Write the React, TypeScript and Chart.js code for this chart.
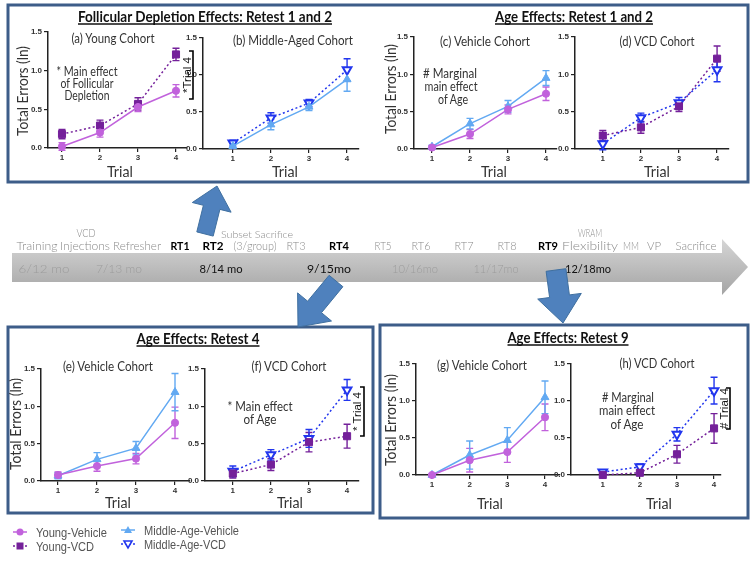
import React, { useEffect, useRef } from "react";
import { Chart, registerables } from "chart.js";
Chart.register(...registerables);
Chart.defaults.font.family = "'Liberation Sans', Arial, sans-serif";

// ---------------- DATA ----------------
const trials = [1, 2, 3, 4];
const yTickValues = [0, 0.5, 1.0, 1.5];

// (a) Young cohort, Retest 1 and 2
const aYoungVehicle = [0.02, 0.2, 0.53, 0.74];
const aYoungVehicleSem = [0.05, 0.06, 0.06, 0.08];
const aYoungVCD = [0.18, 0.29, 0.57, 1.21];
const aYoungVCDSem = [0.06, 0.07, 0.08, 0.08];
// (b) Middle-aged cohort, Retest 1 and 2
const bMiddleVehicle = [0.04, 0.33, 0.57, 0.94];
const bMiddleVehicleSem = [0.03, 0.07, 0.05, 0.16];
const bMiddleVCD = [0.08, 0.42, 0.62, 1.07];
const bMiddleVCDSem = [0.04, 0.07, 0.05, 0.15];
// (c) Vehicle cohort, Retest 1 and 2
const cMiddleVehicle = [0.03, 0.34, 0.57, 0.95];
const cMiddleVehicleSem = [0.02, 0.07, 0.08, 0.1];
const cYoungVehicle = [0.02, 0.2, 0.53, 0.74];
const cYoungVehicleSem = [0.02, 0.06, 0.06, 0.09];
// (d) VCD cohort, Retest 1 and 2
const dYoungVCD = [0.18, 0.29, 0.57, 1.21];
const dYoungVCDSem = [0.07, 0.08, 0.07, 0.17];
const dMiddleVCD = [0.07, 0.42, 0.62, 1.06];
const dMiddleVCDSem = [0.08, 0.06, 0.07, 0.16];
// (e) Vehicle cohort, Retest 4
const eMiddleVehicle = [0.07, 0.29, 0.44, 1.19];
const eMiddleVehicleSem = [0.04, 0.09, 0.09, 0.25];
const eYoungVehicle = [0.08, 0.2, 0.3, 0.78];
const eYoungVehicleSem = [0.04, 0.07, 0.07, 0.21];
// (f) VCD cohort, Retest 4
const fMiddleVCD = [0.13, 0.35, 0.57, 1.22];
const fMiddleVCDSem = [0.07, 0.07, 0.12, 0.14];
const fYoungVCD = [0.1, 0.22, 0.52, 0.6];
const fYoungVCDSem = [0.06, 0.08, 0.13, 0.16];
// (g) Vehicle cohort, Retest 9
const gMiddleVehicle = [0.0, 0.27, 0.47, 1.05];
const gMiddleVehicleSem = [0.01, 0.19, 0.17, 0.22];
const gYoungVehicle = [0.0, 0.2, 0.31, 0.78];
const gYoungVehicleSem = [0.01, 0.16, 0.14, 0.18];
// (h) VCD cohort, Retest 9
const hMiddleVCD = [0.04, 0.11, 0.55, 1.14];
const hMiddleVCDSem = [0.02, 0.04, 0.09, 0.18];
const hYoungVCD = [0.0, 0.03, 0.28, 0.63];
const hYoungVCDSem = [0.01, 0.02, 0.12, 0.2];

// ---------------- STYLE ----------------
const STYLE: any = {
  YV: { label: "Young-Vehicle", color: "#c162dc", fill: "#c162dc", pointStyle: "circle", radius: 3.6, dash: [], pbw: 1, rot: 0 },
  YVCD: { label: "Young-VCD", color: "#74209a", fill: "#74209a", pointStyle: "rect", radius: 5, dash: [2, 2.5], pbw: 1, rot: 0 },
  MAV: { label: "Middle-Age-Vehicle", color: "#62a9f2", fill: "#62a9f2", pointStyle: "triangle", radius: 4.6, dash: [], pbw: 1, rot: 0 },
  MAVCD: { label: "Middle-Age-VCD", color: "#2236ee", fill: "#ffffff", pointStyle: "triangle", radius: 5, dash: [2, 2.5], pbw: 2, rot: 180 },
};

const GEO: any = {
  a: { axisX: 48, yTop: 32, yBot: 148, p1: 62, p4: 176, xEnd: 187 },
  b: { axisX: 203, yTop: 38, yBot: 149, p1: 233, p4: 348, xEnd: 360 },
  c: { axisX: 414, yTop: 37, yBot: 149, p1: 432, p4: 546, xEnd: 557 },
  d: { axisX: 575, yTop: 37, yBot: 149, p1: 603, p4: 718, xEnd: 730 },
  e: { axisX: 41, yTop: 369, yBot: 481, p1: 58, p4: 175, xEnd: 190 },
  f: { axisX: 205, yTop: 369, yBot: 481, p1: 233, p4: 348, xEnd: 360 },
  g: { axisX: 416, yTop: 364, yBot: 475, p1: 432, p4: 545, xEnd: 560 },
  h: { axisX: 571, yTop: 364, yBot: 475, p1: 603, p4: 715, xEnd: 722 },
};

const PANELS = [
  { id: "a", series: [["YV", aYoungVehicle, aYoungVehicleSem], ["YVCD", aYoungVCD, aYoungVCDSem]] },
  { id: "b", series: [["MAV", bMiddleVehicle, bMiddleVehicleSem], ["MAVCD", bMiddleVCD, bMiddleVCDSem]] },
  { id: "c", series: [["YV", cYoungVehicle, cYoungVehicleSem], ["MAV", cMiddleVehicle, cMiddleVehicleSem]] },
  { id: "d", series: [["YVCD", dYoungVCD, dYoungVCDSem], ["MAVCD", dMiddleVCD, dMiddleVCDSem]] },
  { id: "e", series: [["YV", eYoungVehicle, eYoungVehicleSem], ["MAV", eMiddleVehicle, eMiddleVehicleSem]] },
  { id: "f", series: [["YVCD", fYoungVCD, fYoungVCDSem], ["MAVCD", fMiddleVCD, fMiddleVCDSem]] },
  { id: "g", series: [["YV", gYoungVehicle, gYoungVehicleSem], ["MAV", gMiddleVehicle, gMiddleVehicleSem]] },
  { id: "h", series: [["YVCD", hYoungVCD, hYoungVCDSem], ["MAVCD", hMiddleVCD, hMiddleVCDSem]] },
];

const errorBarPlugin = {
  id: "errorBars",
  beforeDatasetsDraw(chart: any) {
    const ctx = chart.ctx;
    const ys = chart.scales.y;
    chart.data.datasets.forEach((ds: any, i: number) => {
      const meta = chart.getDatasetMeta(i);
      ctx.save();
      ctx.strokeStyle = ds.borderColor;
      ctx.lineWidth = 1.4;
      ctx.setLineDash([]);
      ds.errors.forEach((e: number, j: number) => {
        const pt = meta.data[j];
        const v = ds.data[j].y;
        const y1 = ys.getPixelForValue(v + e);
        const y2 = ys.getPixelForValue(v - e);
        const x = pt.x;
        ctx.beginPath();
        ctx.moveTo(x, y1);
        ctx.lineTo(x, y2);
        ctx.moveTo(x - 3.5, y1);
        ctx.lineTo(x + 3.5, y1);
        ctx.moveTo(x - 3.5, y2);
        ctx.lineTo(x + 3.5, y2);
        ctx.stroke();
      });
      ctx.restore();
    });
  },
};

function Panel({ id, series }: any) {
  const ref = useRef<HTMLCanvasElement>(null);
  const g = GEO[id];
  const PADL = 32, PADT = 8, PADR = 6, PADB = 20;
  const L = g.axisX - PADL, T = g.yTop - PADT;
  const W = g.xEnd + PADR - L, H = g.yBot + PADB - T;
  useEffect(() => {
    const s = (g.p4 - g.p1) / 3;
    const xmin = 1 - (g.p1 - g.axisX) / s;
    const xmax = 4 + (g.xEnd - g.p4) / s;
    const tickFont = { size: 8, weight: "bold" as const, family: "'Liberation Sans', Arial, sans-serif" };
    const chart = new Chart(ref.current as HTMLCanvasElement, {
      type: "line",
      data: {
        datasets: series.map(([key, vals, sem]: any) => {
          const st = STYLE[key];
          return {
            label: st.label,
            data: trials.map((t, i) => ({ x: t, y: vals[i] })),
            errors: sem,
            borderColor: st.color,
            backgroundColor: st.fill,
            borderWidth: 1.5,
            borderDash: st.dash,
            pointStyle: st.pointStyle,
            pointRadius: st.radius,
            pointBorderColor: st.color,
            pointBackgroundColor: st.fill,
            pointBorderWidth: st.pbw,
            pointRotation: st.rot,
            tension: 0,
            fill: false,
            clip: false,
          } as any;
        }),
      },
      options: {
        animation: false,
        responsive: false,
        maintainAspectRatio: false,
        layout: { padding: { left: 0, top: PADT, right: PADR, bottom: 0 } },
        plugins: { legend: { display: false }, tooltip: { enabled: false } },
        scales: {
          x: {
            type: "linear",
            min: xmin,
            max: xmax,
            afterBuildTicks: (sc: any) => {
              sc.ticks = trials.map((v) => ({ value: v }));
            },
            afterFit: (sc: any) => {
              sc.height = PADB;
            },
            grid: { display: true, drawOnChartArea: false, drawTicks: true, tickLength: 4, color: "#222", lineWidth: 1.2 },
            border: { display: true, color: "#222", width: 1.5 },
            ticks: { font: tickFont, color: "#333", padding: 1, maxRotation: 0, autoSkip: false, callback: (v: any) => String(v) },
          },
          y: {
            type: "linear",
            min: 0,
            max: 1.5,
            afterBuildTicks: (sc: any) => {
              sc.ticks = yTickValues.map((v) => ({ value: v }));
            },
            afterFit: (sc: any) => {
              sc.width = PADL;
            },
            grid: { display: true, drawOnChartArea: false, drawTicks: true, tickLength: 4, color: "#222", lineWidth: 1.2 },
            border: { display: true, color: "#222", width: 1.5 },
            ticks: { font: tickFont, color: "#333", padding: 2, autoSkip: false, callback: (v: any) => Number(v).toFixed(1) },
          },
        },
      } as any,
      plugins: [errorBarPlugin],
    });
    return () => chart.destroy();
  }, []);
  return <canvas ref={ref} width={W} height={H} style={{ position: "absolute", left: L, top: T, width: W, height: H }} />;
}

const FONT = "Lato, 'Open Sans', sans-serif";

function Txt({ x, y, s, size = 13, w, weight = 400, fill = "#333", anchor = "middle", rot, family = FONT }: any) {
  return (
    <text
      x={x}
      y={y}
      fontSize={size}
      fontFamily={family}
      fontWeight={weight}
      fill={fill}
      textAnchor={anchor}
      dominantBaseline="central"
      textLength={w}
      lengthAdjust={w ? "spacingAndGlyphs" : undefined}
      transform={rot ? `rotate(${rot} ${x} ${y})` : undefined}
    >
      {s}
    </text>
  );
}

function arrowPts(tx: number, ty: number, hx: number, hy: number, shaft: number, head: number, headLen: number) {
  const dx = hx - tx, dy = hy - ty;
  const len = Math.hypot(dx, dy);
  const ux = dx / len, uy = dy / len;
  const px = -uy, py = ux;
  const bx = hx - ux * headLen, by = hy - uy * headLen;
  const pts = [
    [tx + (px * shaft) / 2, ty + (py * shaft) / 2],
    [bx + (px * shaft) / 2, by + (py * shaft) / 2],
    [bx + (px * head) / 2, by + (py * head) / 2],
    [hx, hy],
    [bx - (px * head) / 2, by - (py * head) / 2],
    [bx - (px * shaft) / 2, by - (py * shaft) / 2],
    [tx - (px * shaft) / 2, ty - (py * shaft) / 2],
  ];
  return pts.map((p) => p.map((v) => v.toFixed(1)).join(",")).join(" ");
}

const TL_MAIN = [
  ["Training", 37, 41, 0], ["Injections", 85, 50, 0], ["Refresher", 137, 48, 0], ["RT1", 180, 19, 1], ["RT2", 213, 21, 1],
  ["(3/group)", 255, 43, 0], ["RT3", 296, 19, 0], ["RT4", 339, 20, 1], ["RT5", 383, 17, 0], ["RT6", 421, 19, 0],
  ["RT7", 464, 19, 0], ["RT8", 507, 19, 0], ["RT9", 548, 20, 1], ["Flexibility", 590, 56, 0], ["MM", 631, 16, 0],
  ["VP", 654, 14, 0], ["Sacrifice", 696, 41, 0],
];
const TL_UPPER = [["VCD", 86, 19, 11], ["Subset Sacrifice", 257, 72, 10], ["WRAM", 590, 24, 11]];
const TL_BAND = [
  ["6/12 mo", 44, 51, 0], ["7/13 mo", 119, 46, 0], ["8/14 mo", 221, 43, 1], ["9/15mo", 329, 44, 1],
  ["10/16mo", 415, 46, 0], ["11/17mo", 496, 45, 0], ["12/18mo", 588, 46, 1],
];

function Title({ x, y, s, w }: any) {
  return (
    <g>
      <Txt x={x} y={y} s={s} size={15} w={w} weight={700} fill="#111" />
      <line x1={x - w / 2} x2={x + w / 2} y1={y + 8} y2={y + 8} stroke="#111" strokeWidth={1.3} />
    </g>
  );
}

function Bracket({ x, y1, y2, s, tx }: any) {
  return (
    <g>
      <Txt x={tx} y={(y1 + y2) / 2} s={s} size={11.5} rot={-90} fill="#111" family="'Liberation Sans', Arial, sans-serif" />
      <polyline points={`${x - 4},${y1} ${x},${y1} ${x},${y2} ${x - 4},${y2}`} fill="none" stroke="#000" strokeWidth={1.6} />
    </g>
  );
}

function LegendItem({ k, x, y, tw }: any) {
  const st = STYLE[k];
  let marker: any;
  if (st.pointStyle === "circle") marker = <circle cx={x} cy={y} r={3.5} fill={st.fill} />;
  else if (st.pointStyle === "rect") marker = <rect x={x - 3.5} y={y - 3.5} width={7} height={7} fill={st.fill} />;
  else if (st.rot === 0) marker = <polygon points={`${x},${y - 4} ${x + 4},${y + 3} ${x - 4},${y + 3}`} fill={st.fill} />;
  else marker = <polygon points={`${x - 4},${y - 3} ${x + 4},${y - 3} ${x},${y + 4}`} fill="#fff" stroke={st.color} strokeWidth={1.6} />;
  return (
    <g>
      <line x1={x - 7} x2={x + 7} y1={y} y2={y} stroke={st.color} strokeWidth={1.5} strokeDasharray={st.dash.length ? "2 2" : undefined} />
      {marker}
      <Txt x={x + 16} y={y + 1} s={st.label} size={12} w={tw} anchor="start" fill="#555" family="'Liberation Sans', Arial, sans-serif" />
    </g>
  );
}

function Overlay() {
  const box = "#3d5d89";
  const arrowFill = "#4f81bd";
  const arrowStroke = "#3f6f9f";
  return (
    <svg width={754} height={561} style={{ position: "absolute", left: 0, top: 0, pointerEvents: "none" }}>
      <defs>
        <linearGradient id="bandGrad" x1="0" y1="0" x2="0" y2="1">
          <stop offset="0" stopColor="#d6d6d6" />
          <stop offset="0.5" stopColor="#bdbdbd" />
          <stop offset="1" stopColor="#a4a4a4" />
        </linearGradient>
      </defs>
      {/* boxes */}
      <rect x={8} y={5} width={740} height={177} fill="none" stroke={box} strokeWidth={3} />
      <rect x={8} y={327} width={365} height={186} fill="none" stroke={box} strokeWidth={3} />
      <rect x={380} y={325} width={368} height={193} fill="none" stroke={box} strokeWidth={3} />

      {/* timeline band */}
      <polygon points="12,253 722,253 722,239 748,267 722,295 722,282 12,282" fill="url(#bandGrad)" />
      {TL_MAIN.map(([s, x, w, b]: any) => (
        <Txt key={s} x={x} y={245} s={s} size={12} w={w} weight={b ? 700 : 300} fill={b ? "#000" : "#8a8a8a"} />
      ))}
      {TL_UPPER.map(([s, x, w, sz]: any) => (
        <Txt key={s} x={x} y={sz === 10 ? 234 : 232} s={s} size={sz} w={w} weight={300} fill="#8a8a8a" />
      ))}
      {TL_BAND.map(([s, x, w, d]: any) => (
        <Txt key={s} x={x} y={268} s={s} size={12} w={w} weight={d ? 400 : 300} fill={d ? "#111" : "#9c9c9c"} />
      ))}

      {/* arrows */}
      <polygon points={arrowPts(205, 234, 217, 186, 17, 40, 22)} fill={arrowFill} stroke={arrowStroke} strokeWidth={1} />
      <polygon points={arrowPts(336, 281, 298, 327, 18, 44, 26)} fill={arrowFill} stroke={arrowStroke} strokeWidth={1} />
      <polygon points={arrowPts(556, 270, 563, 323, 20, 44, 27)} fill={arrowFill} stroke={arrowStroke} strokeWidth={1} />

      {/* titles */}
      <Title x={205} y={16} s="Follicular Depletion Effects: Retest 1 and 2" w={254} />
      <Title x={574} y={16} s="Age Effects: Retest 1 and 2" w={158} />
      <Title x={198} y={338} s="Age Effects: Retest 4" w={123} />
      <Title x={568} y={337} s="Age Effects: Retest 9" w={121} />

      {/* panel subtitles */}
      <Txt x={113} y={38} s="(a) Young Cohort" w={83} />
      <Txt x={293} y={40} s="(b) Middle-Aged Cohort" w={120} />
      <Txt x={485} y={41} s="(c) Vehicle Cohort" w={90} />
      <Txt x={657} y={41} s="(d) VCD Cohort" w={75} />
      <Txt x={108} y={366} s="(e) Vehicle Cohort" w={90} />
      <Txt x={289} y={366} s="(f) VCD Cohort" w={75} />
      <Txt x={482} y={365} s="(g) Vehicle Cohort" w={90} />
      <Txt x={657} y={363} s="(h) VCD Cohort" w={75} />

      {/* annotations */}
      <Txt x={87} y={71} s="* Main effect" w={61} />
      <Txt x={87} y={83} s="of Follicular" w={53} />
      <Txt x={87} y={95} s="Depletion" w={45} />
      <Txt x={450} y={73} s="# Marginal" w={54} />
      <Txt x={451} y={86} s="main effect" w={53} />
      <Txt x={453} y={99} s="of Age" w={30} />
      <Txt x={260} y={406} s="* Main effect" w={65} />
      <Txt x={260} y={419} s="of Age" w={33} />
      <Txt x={628} y={397} s="# Marginal" w={52} />
      <Txt x={627} y={410} s="main effect" w={56} />
      <Txt x={627} y={424} s="of Age" w={33} />

      <Bracket x={193} y1={51} y2={99} tx={187} s="*Trial 4" />
      <Bracket x={364} y1={387} y2={436} tx={357} s="* Trial 4" />
      <Bracket x={730} y1={388} y2={429} tx={724} s="# Trial 4" />

      {/* axis titles */}
      <Txt x={22} y={91} s="Total Errors (ln)" size={15} w={90} rot={-90} />
      <Txt x={390} y={89} s="Total Errors (ln)" size={15} w={90} rot={-90} />
      <Txt x={15} y={424} s="Total Errors (ln)" size={15} w={92} rot={-90} />
      <Txt x={390} y={420} s="Total Errors (ln)" size={15} w={92} rot={-90} />
      <Txt x={120} y={170} s="Trial" size={16} w={26} />
      <Txt x={285} y={170} s="Trial" size={16} w={26} />
      <Txt x={494} y={170} s="Trial" size={16} w={26} />
      <Txt x={657} y={170} s="Trial" size={16} w={26} />
      <Txt x={118} y={501} s="Trial" size={16} w={26} />
      <Txt x={290} y={501} s="Trial" size={16} w={26} />
      <Txt x={490} y={502} s="Trial" size={16} w={26} />
      <Txt x={659} y={502} s="Trial" size={16} w={26} />

      {/* legend */}
      <LegendItem k="YV" x={20} y={532} tw={71} />
      <LegendItem k="YVCD" x={20} y={546} tw={58} />
      <LegendItem k="MAV" x={128} y={530} tw={95} />
      <LegendItem k="MAVCD" x={128} y={544} tw={82} />
    </svg>
  );
}

export default function App() {
  return (
    <div style={{ position: "absolute", left: 0, top: 0, width: 754, height: 561, background: "#fff", overflow: "hidden" }}>
      {PANELS.map((p) => (
        <Panel key={p.id} id={p.id} series={p.series} />
      ))}
      <Overlay />
    </div>
  );
}
